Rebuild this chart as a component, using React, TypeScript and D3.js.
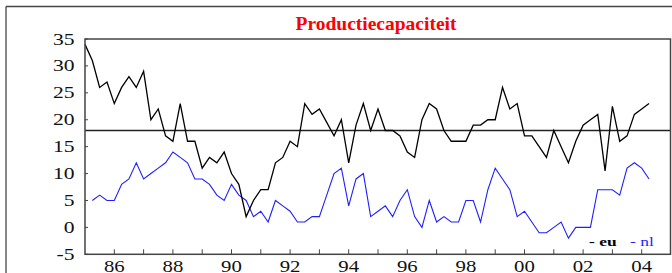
import React from "react";
import * as d3 from "d3";

// Quarterly values, eu from 1985 Q1, nl from 1985 Q2
const euStart = 1985;
const euValues = [
  34, 31, 26, 27,
  23, 26, 28, 26,
  29, 20, 22, 17,
  16, 23, 16, 16,
  11, 13, 12, 14,
  10, 8, 2, 5,
  7, 7, 12, 13,
  16, 15, 23, 21,
  22, 19.5, 17, 20,
  12, 19, 23, 18,
  22, 18, 18, 17,
  14, 13, 20, 23,
  22, 18, 16, 16,
  16, 19, 19, 20,
  20, 26, 22, 23,
  17, 17, 15, 13,
  18, 15, 12, 16,
  19, 20, 21, 10.5,
  22.5, 16, 17, 21,
  22, 23,
];
const nlStart = 1985.25;
const nlValues = [
  5, 6, 5,
  5, 8, 9, 12,
  9, 10, 11, 12,
  14, 13, 12, 9,
  9, 8, 6, 5,
  8, 6, 5, 2,
  3, 1, 5, 4,
  3, 1, 1, 2,
  2, 6, 10, 11,
  4, 9, 10, 2,
  3, 4, 2, 5,
  7, 2, 0, 5,
  1, 2, 1, 1,
  5, 5, 1, 7,
  11, 9, 7, 2,
  3, 1, -1, -1,
  0, 1, -2, 0,
  0, 0, 7, 7,
  7, 6, 11, 12,
  11, 9,
];
const referenceLevel = 18;
const yTicks = [-5, 0, 5, 10, 15, 20, 25, 30, 35];
const xTickYears = d3.range(1986, 2005);
const xLabelYears = [1986, 1988, 1990, 1992, 1994, 1996, 1998, 2000, 2002, 2004];
const title = "Productiecapaciteit";
const legendEu = "- eu";
const legendNl = "- nl";

const W = 672;
const H = 273;
const FONT = "'Liberation Serif', 'Times New Roman', serif";
const BLUE = "#1f1fff";

export default function App() {
  const x = d3.scaleLinear().domain([1985, 2005]).range([85, 671]);
  const y = d3.scaleLinear().domain([-5, 35]).range([254.3, 39]);

  const euPts: [number, number][] = euValues.map((v, i) => [euStart + i / 4, v]);
  const nlPts: [number, number][] = nlValues.map((v, i) => [nlStart + i / 4, v]);
  const line = d3
    .line<[number, number]>()
    .x((d) => x(d[0]))
    .y((d) => y(d[1]));

  const x0 = x(1985);
  const x1 = 670.5;
  const yTop = y(35);
  const yBot = y(-5);

  return (
    <div style={{ position: "absolute", left: 0, top: 0 }}>
      <svg width={W} height={H} style={{ display: "block", background: "#fff" }}>
        {/* outer frame */}
        <line x1={6} y1={6.5} x2={W} y2={6.5} stroke="#444" strokeWidth={1.3} />
        <line x1={6} y1={6.5} x2={6} y2={H} stroke="#444" strokeWidth={1.3} />

        <text
          x={376}
          y={30}
          textAnchor="middle"
          fontFamily={FONT}
          fontWeight="bold"
          fontSize={19.5}
          fill="#ff0000"
        >
          {title}
        </text>

        {/* reference line */}
        <line x1={x0} x2={x1} y1={y(referenceLevel)} y2={y(referenceLevel)} stroke="#222" strokeWidth={1.5} />

        {/* series */}
        <path d={line(nlPts) || ""} fill="none" stroke={BLUE} strokeWidth={1.1} strokeLinejoin="miter" />
        <path d={line(euPts) || ""} fill="none" stroke="#000" strokeWidth={1.3} strokeLinejoin="miter" />

        {/* plot frame */}
        <rect x={x0} y={yTop} width={x1 - x0} height={yBot - yTop} fill="none" stroke="#444" strokeWidth={1.5} />

        {/* y ticks and labels */}
        {yTicks.map((t) => (
          <g key={"y" + t}>
            <line x1={x0} x2={x0 + 3} y1={y(t)} y2={y(t)} stroke="#444" strokeWidth={1} />
            <text
              transform={`translate(74.5, ${y(t) + 5.5}) scale(1.35, 1)`}
              textAnchor="end"
              fontFamily={FONT}
              fontSize={16}
              fill="#111"
            >
              {t}
            </text>
          </g>
        ))}

        {/* x ticks and labels */}
        {xTickYears.map((yr) => (
          <line key={"xt" + yr} x1={x(yr)} x2={x(yr)} y1={yBot} y2={yBot - 5} stroke="#444" strokeWidth={1} />
        ))}
        {xLabelYears.map((yr) => (
          <text
            key={"xl" + yr}
            transform={`translate(${x(yr)}, 272) scale(1.3, 1)`}
            textAnchor="middle"
            fontFamily={FONT}
            fontSize={16}
            fill="#111"
          >
            {String(yr % 100).padStart(2, "0")}
          </text>
        ))}

        {/* legend */}
        <text
          transform="translate(589, 245.5) scale(1.4, 1)"
          fontFamily={FONT}
          fontWeight="bold"
          fontSize={12.5}
          fill="#000"
        >
          {legendEu}
        </text>
        <text
          transform="translate(630, 245.5) scale(1.4, 1)"
          fontFamily={FONT}
          fontSize={12.5}
          fill={BLUE}
        >
          {legendNl}
        </text>
      </svg>
    </div>
  );
}
